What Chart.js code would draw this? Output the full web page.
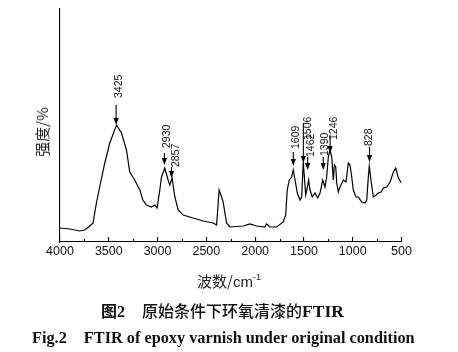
<!DOCTYPE html>
<html>
<head>
<meta charset="utf-8">
<script src="https://cdn.jsdelivr.net/npm/chart.js@4"></script>
<style>
  body { margin: 0; background: #fff; }
  #wrap { position: relative; width: 458px; height: 352px; overflow: hidden; }
  #wrap canvas { position: absolute; left: 0; top: 0; }
  .lbl { position: absolute; white-space: nowrap; color: #222; }
  #xTitle { left: 0; width: 458px; top: 272px; text-align: center; font: 15px "Noto Sans CJK SC", sans-serif; line-height: 18px; }
  #xTitle sup { font: 9px "Liberation Sans", sans-serif; vertical-align: 7px; }
  #xTitle .en { font-family: "Liberation Sans", sans-serif; }
  #yTitle { left: 42px; top: 132px; transform: translate(-50%, -50%) rotate(-90deg); font: 15px "Noto Sans CJK SC", sans-serif; line-height: 18px; }
  #cap1 { left: 101px; top: 299px; font: 500 16px "Noto Sans CJK SC", sans-serif; line-height: 22px; color: #111; }
  #cap1 .fig { font-weight: bold; }
  #cap1 .num { font: bold 16px "Liberation Serif", serif; }
  #cap1 .body { margin-left: 17px; }
  #cap1 .tm { font: bold 17.5px "Liberation Serif", serif; }
  #cap2 { left: 32px; top: 328px; font: bold 16.3px "Liberation Serif", serif; line-height: 20px; color: #111; }
  #cap2 .body { margin-left: 17px; }
</style>
</head>
<body>
<div id="wrap">
  <canvas id="ftir"></canvas>
  <div class="lbl" id="yTitle">强度/%</div>
  <div class="lbl" id="xTitle">波数/<span class="en">cm</span><sup>-1</sup></div>
  <div class="lbl" id="cap1"><span class="fig">图</span><span class="num">2</span><span class="body">原始条件下环氧清漆的<span class="tm">FTIR</span></span></div>
  <div class="lbl" id="cap2">Fig.2<span class="body">FTIR of epoxy varnish under original condition</span></div>
</div>
<script>
// wavenumber (cm-1) and intensity
const wavenumbers = [4000, 3900, 3798, 3747, 3706, 3661, 3627, 3593, 3541, 3490, 3421, 3370, 3319, 3285, 3234, 3182, 3151, 3114, 3062, 3028,
    3005, 2977, 2960, 2926, 2892, 2875, 2851, 2823, 2789, 2738, 2635, 2533, 2430, 2395, 2369, 2344, 2328, 2293, 2259, 2122,
    2054, 1985, 1900, 1882, 1848, 1780, 1712, 1687, 1671, 1650, 1626, 1609, 1591, 1568, 1540, 1523, 1507, 1482, 1466, 1452,
    1438, 1415, 1387, 1359, 1335, 1308, 1284, 1267, 1250, 1233, 1215, 1199, 1188, 1174, 1164, 1148, 1130, 1096, 1069, 1045,
    1028, 1010, 994, 966, 942, 908, 874, 856, 840, 830, 813, 789, 761, 737, 710, 686, 651, 617, 583, 559, 532, 500];
const intensity = [14, 13, 11, 12, 15, 19, 39, 55, 79, 99, 117, 109, 92, 70, 62, 52, 42, 37, 35, 37,
    34, 52, 65, 74, 62, 57, 64, 45, 32, 27, 24, 21, 19, 17, 52, 45, 40, 19, 15, 16,
    18, 16, 15, 18, 15, 15, 20, 27, 52, 62, 65, 72, 62, 49, 42, 45, 80, 47, 54, 62,
    52, 45, 49, 44, 49, 62, 55, 65, 85, 92, 85, 62, 77, 75, 59, 50, 55, 62, 60, 79,
    77, 65, 52, 45, 45, 40, 39, 42, 65, 76, 62, 45, 47, 49, 50, 54, 55, 60, 70, 74, 64, 59];

// axis
const xTicks = [4000, 3500, 3000, 2500, 2000, 1500, 1000, 500];
const xMinorTicks = [3750, 3250, 2750, 2250, 1750, 1250, 750];

// peak labels, where the arrows sit, and the intensity at the arrow tip
const peakLabels = ['3425', '2930', '2857', '1609', '1506', '1462', '1390', '1246', '828'];
const peakAt = [3425, 2930, 2857, 1609, 1506, 1462, 1302, 1232, 828];
const peakTip = [117, 77, 64, 76, 79, 72, 72, 89, 80];

// arrow drawing: shaft length, label start above tip, label x shift (px)
const arrowStyle = [
    { len: 20, lab: 27, dx: 3 },
    { len: 12, lab: 17, dx: 3 },
    { len: 11, lab: 11, dx: 5 },
    { len: 14, lab: 17, dx: 2.5 },
    { len: 40, lab: 23, dx: 5 },
    { len: 13, lab: 13, dx: 3.5 },
    { len: 13, lab: 14, dx: 2 },
    { len: 18, lab: 13, dx: 4.5 },
    { len: 15, lab: 16, dx: 0 }
];

const points = wavenumbers.map((w, i) => ({ x: w, y: intensity[i] }));

const peakArrows = {
    id: 'peakArrows',
    afterDatasetsDraw(chart) {
        const { ctx, scales: { x, y } } = chart;
        ctx.save();
        ctx.strokeStyle = '#000';
        ctx.fillStyle = '#000';
        ctx.lineWidth = 1.1;

        // minor ticks, pointing into the plot
        const base = chart.chartArea.bottom;
        xMinorTicks.forEach(v => {
            const px = Math.round(x.getPixelForValue(v)) + 0.5;
            ctx.beginPath();
            ctx.moveTo(px, base);
            ctx.lineTo(px, base - 3);
            ctx.stroke();
        });

        ctx.font = '10.5px "Liberation Sans", Arial, sans-serif';
        ctx.textAlign = 'left';
        ctx.textBaseline = 'middle';
        peakLabels.forEach((txt, i) => {
            const st = arrowStyle[i];
            const px = x.getPixelForValue(peakAt[i]);
            const tip = y.getPixelForValue(peakTip[i]);
            ctx.beginPath();
            ctx.moveTo(px, tip - st.len);
            ctx.lineTo(px, tip - 5);
            ctx.stroke();
            ctx.beginPath();
            ctx.moveTo(px, tip);
            ctx.lineTo(px - 2.6, tip - 7);
            ctx.lineTo(px + 2.6, tip - 7);
            ctx.closePath();
            ctx.fill();

            ctx.save();
            ctx.translate(px + st.dx, tip - st.lab);
            ctx.rotate(-Math.PI / 2);
            ctx.fillStyle = '#111';
            ctx.fillText(txt, 0, 0);
            ctx.restore();
        });
        ctx.restore();
    }
};

new Chart(document.getElementById('ftir'), {
    type: 'line',
    data: {
        datasets: [{
            data: points,
            borderColor: '#000',
            borderWidth: 1.2,
            pointRadius: 0,
            tension: 0,
            fill: false
        }]
    },
    options: {
        responsive: true,
        maintainAspectRatio: false,
        animation: false,
        layout: { padding: { left: 0, top: 9, right: 56.5, bottom: 0 } },
        plugins: { legend: { display: false }, tooltip: { enabled: false } },
        scales: {
            x: {
                type: 'linear',
                reverse: true,
                min: 500,
                max: 4000,
                afterBuildTicks: s => { s.ticks = xTicks.map(v => ({ value: v })); },
                afterFit: s => { s.height = 110; },
                grid: { display: true, drawOnChartArea: false, drawTicks: true, tickLength: -5, color: '#000', lineWidth: 1.1 },
                border: { display: true, color: '#000', width: 1.1 },
                ticks: {
                    autoSkip: false,
                    maxRotation: 0,
                    padding: 7,
                    color: '#111',
                    font: { family: '"Liberation Sans", Arial, sans-serif', size: 12.5 },
                    callback: v => String(v)
                }
            },
            y: {
                min: 0,
                max: 233,
                afterFit: s => { s.width = 60; },
                grid: { display: false },
                border: { display: true, color: '#000', width: 1.1 },
                ticks: { display: false }
            }
        }
    },
    plugins: [peakArrows]
});
</script>
</body>
</html>
